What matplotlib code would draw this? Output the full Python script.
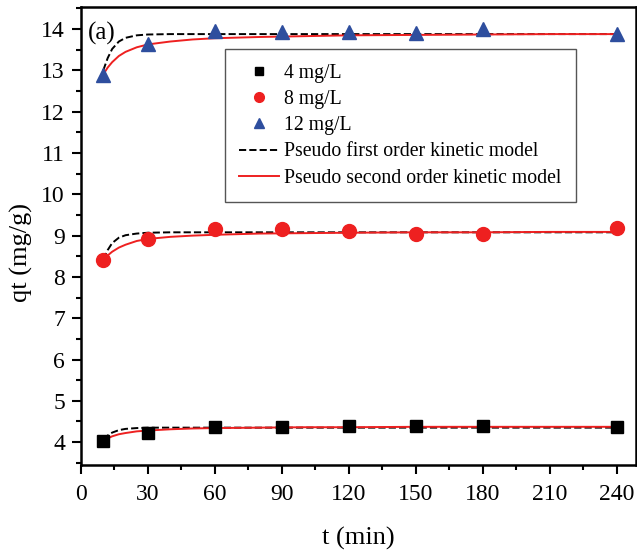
import matplotlib
matplotlib.use('Agg')
import matplotlib.pyplot as plt
from matplotlib.ticker import MultipleLocator

plt.rcParams['font.family'] = ['Liberation Serif', 'DejaVu Serif']

# experimental points
t = [10, 30, 60, 90, 120, 150, 180, 240]
q_4 = [4.03, 4.22, 4.37, 4.37, 4.40, 4.39, 4.40, 4.36]
q_8 = [8.40, 8.92, 9.17, 9.17, 9.12, 9.05, 9.03, 9.18]
q_12 = [12.88, 13.65, 13.95, 13.92, 13.93, 13.90, 14.00, 13.88]

# model curves
t_fit = [10, 12, 14, 17, 20, 25, 30, 40, 50, 60, 80, 100, 120, 150, 180, 210, 240]
pfo_4 = [4.06, 4.16, 4.23, 4.29, 4.32, 4.34, 4.35, 4.35, 4.35, 4.35, 4.35, 4.35, 4.35, 4.35, 4.35, 4.35, 4.35]
pso_4 = [4.03, 4.09, 4.14, 4.19, 4.22, 4.26, 4.28, 4.31, 4.33, 4.34, 4.35, 4.36, 4.36, 4.37, 4.37, 4.37, 4.37]
pfo_8 = [8.42, 8.65, 8.82, 8.95, 9.01, 9.05, 9.07, 9.08, 9.08, 9.08, 9.08, 9.08, 9.08, 9.08, 9.08, 9.08, 9.08]
pso_8 = [8.40, 8.52, 8.61, 8.71, 8.78, 8.87, 8.92, 8.97, 9.00, 9.02, 9.05, 9.06, 9.07, 9.08, 9.08, 9.09, 9.09]
pfo_12 = [13.00, 13.30, 13.52, 13.70, 13.79, 13.85, 13.87, 13.88, 13.88, 13.88, 13.88, 13.88, 13.88, 13.88, 13.88, 13.88, 13.88]
pso_12 = [12.90, 13.07, 13.20, 13.35, 13.45, 13.56, 13.63, 13.70, 13.75, 13.78, 13.81, 13.83, 13.85, 13.86, 13.87, 13.88, 13.88]

labels = ['4 mg/L', '8 mg/L', '12 mg/L']
red = '#ee2020'
blue = '#2e4e9e'

fig = plt.figure(figsize=(6.37, 5.58), dpi=100)
ax = fig.add_axes([0.127, 0.167, 0.871, 0.82])

# points
ax.plot(t, q_4, 's', color='black', markersize=9, label=labels[0], zorder=3)
ax.plot(t, q_8, 'o', color=red, markersize=10, label=labels[1], zorder=3)
ax.plot(t, q_12, '^', color=blue, markersize=10.5, label=labels[2], zorder=3)

# fitted models
ax.plot(t_fit, pfo_4, '--', color='black', lw=1.4, label='Pseudo first order kinetic model')
ax.plot(t_fit, pso_4, '-', color=red, lw=1.4, label='Pseudo second order kinetic model')
for pfo, pso in [(pfo_8, pso_8), (pfo_12, pso_12)]:
    ax.plot(t_fit, pfo, '--', color='black', lw=1.4)
    ax.plot(t_fit, pso, '-', color=red, lw=1.4)

ax.set_xlim(0, 248.5)
ax.set_ylim(3.45, 14.53)
ax.xaxis.set_major_locator(MultipleLocator(30))
ax.xaxis.set_minor_locator(MultipleLocator(15))
ax.yaxis.set_major_locator(MultipleLocator(1))
ax.yaxis.set_minor_locator(MultipleLocator(0.5))
ax.tick_params(which='major', direction='out', length=6.5, width=1.5, labelsize=17, pad=5)
ax.tick_params(axis='x', which='major', pad=7)
ax.tick_params(which='minor', direction='out', length=3.5, width=1.5)
for s in ax.spines.values():
    s.set_linewidth(1.8)

ax.set_xlabel('t (min)', fontsize=19, labelpad=16)
ax.set_ylabel('qt (mg/g)', fontsize=19)
ax.yaxis.set_label_coords(-0.087, 0.463)
ax.text(0.013, 0.968, '(a)', transform=ax.transAxes, fontsize=18, va='top', ha='left')

leg = ax.legend(loc='upper left', bbox_to_anchor=(0.259, 0.908), borderaxespad=0,
                fontsize=14.2, fancybox=False, edgecolor='#555555', framealpha=1,
                handlelength=2.0, handletextpad=0.25, labelspacing=0.36,
                borderpad=0.75, markerscale=0.7)
leg.get_frame().set_linewidth(1.0)

fig.savefig('out.png', dpi=100)
